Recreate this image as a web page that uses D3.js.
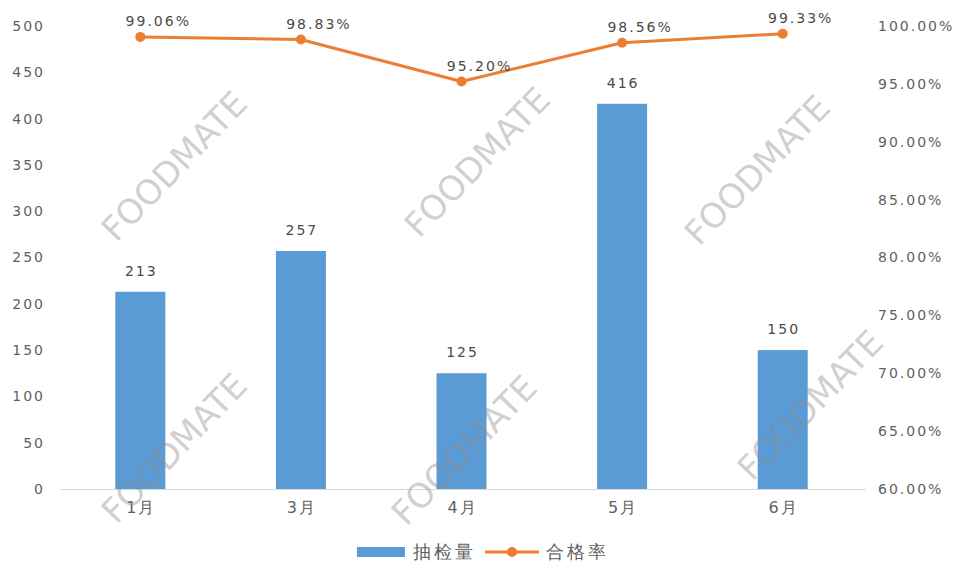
<!DOCTYPE html>
<html><head><meta charset="utf-8">
<script src="https://cdn.jsdelivr.net/npm/d3@7/dist/d3.min.js"></script>
<style>body{margin:0;background:#fff}svg{display:block}text{font-family:"DejaVu Sans",Verdana,sans-serif}</style>
</head><body><svg id="c" width="954" height="582"></svg>
<script>
const categories = ["1月","3月","4月","5月","6月"];
const counts = [213, 257, 125, 416, 150];
const rates = [99.06, 98.83, 95.20, 98.56, 99.33];
const leftTicks = [0,50,100,150,200,250,300,350,400,450,500];
const rightTicks = [60,65,70,75,80,85,90,95,100];
const seriesNames = ["抽检量","合格率"];

const svg = d3.select("#c");
const x = d3.scaleBand().domain(categories).range([60, 863]);
const yL = d3.scaleLinear().domain([0,500]).range([489, 26]);
const yR = d3.scaleLinear().domain([60,100]).range([489, 26]);
const grey = "#5f5f5f";
const blue = "#5B9BD5", orange = "#ED7D31";

// baseline
svg.append("line").attr("x1",60).attr("x2",866).attr("y1",489.5).attr("y2",489.5)
  .attr("stroke","#d9d9d9").attr("stroke-width",1);

// left axis
const axL = svg.append("g").attr("transform","translate(49,0)")
  .call(d3.axisLeft(yL).tickValues(leftTicks).tickSize(0).tickPadding(4));
axL.select(".domain").remove();
axL.selectAll("text").attr("fill",grey).attr("font-size",14).attr("letter-spacing",2);

// right axis
const axR = svg.append("g").attr("transform","translate(874,0)")
  .call(d3.axisRight(yR).tickValues(rightTicks).tickSize(0).tickPadding(4).tickFormat(d=>d.toFixed(2)+"%"));
axR.select(".domain").remove();
axR.selectAll("text").attr("fill",grey).attr("font-size",14).attr("letter-spacing",2);

// x axis
const axX = svg.append("g").attr("transform","translate(0,489)")
  .call(d3.axisBottom(x).tickSize(0).tickPadding(13));
axX.select(".domain").remove();
axX.selectAll("text").attr("fill",grey).attr("font-size",16).attr("letter-spacing",2).attr("dx",1);

// bars
const bw = 50;
svg.selectAll("rect.bar").data(counts).join("rect").attr("class","bar")
  .attr("x",(d,i)=>x(categories[i])+x.bandwidth()/2-bw/2)
  .attr("y",d=>yL(d)).attr("width",bw).attr("height",d=>yL(0)-yL(d))
  .attr("fill",blue);
svg.selectAll("text.bl").data(counts).join("text").attr("class","bl")
  .attr("x",(d,i)=>x(categories[i])+x.bandwidth()/2+1)
  .attr("y",d=>yL(d)-16).attr("text-anchor","middle")
  .attr("fill","#4a4a4a").attr("font-size",14).attr("letter-spacing",2).text(d=>d);

// line
const line = d3.line().x((d,i)=>x(categories[i])+x.bandwidth()/2).y(d=>yR(d));
svg.append("path").datum(rates).attr("d",line).attr("fill","none")
  .attr("stroke",orange).attr("stroke-width",3).attr("stroke-linejoin","round");
svg.selectAll("circle.pt").data(rates).join("circle").attr("class","pt")
  .attr("cx",(d,i)=>x(categories[i])+x.bandwidth()/2).attr("cy",d=>yR(d))
  .attr("r",5).attr("fill",orange);
svg.selectAll("text.ll").data(rates).join("text").attr("class","ll")
  .attr("x",(d,i)=>x(categories[i])+x.bandwidth()/2+18)
  .attr("y",d=>yR(d)-11).attr("text-anchor","middle")
  .attr("fill","#4a4a4a").attr("font-size",14).attr("letter-spacing",2).text(d=>d.toFixed(2)+"%");

// legend
const lg = svg.append("g");
lg.append("rect").attr("x",357).attr("y",547).attr("width",48).attr("height",10).attr("fill",blue);
lg.append("text").attr("x",413).attr("y",558).attr("fill",grey).attr("font-size",18).attr("letter-spacing",3)
  .attr("font-family","Noto Sans CJK SC").text(seriesNames[0]);
lg.append("line").attr("x1",485).attr("x2",539).attr("y1",552).attr("y2",552).attr("stroke",orange).attr("stroke-width",3);
lg.append("circle").attr("cx",512).attr("cy",552).attr("r",5).attr("fill",orange);
lg.append("text").attr("x",546).attr("y",558).attr("fill",grey).attr("font-size",18).attr("letter-spacing",3)
  .attr("font-family","Noto Sans CJK SC").text(seriesNames[1]);

// watermarks
const wm = [[174,166],[477,162],[757,170],[174,448],[464,450],[810,405],[962,592]];
svg.selectAll("text.wm").data(wm).join("text").attr("class","wm")
  .attr("transform",d=>`translate(${d[0]},${d[1]}) rotate(-46)`)
  .attr("text-anchor","middle").attr("dominant-baseline","central")
  .attr("font-size",34).attr("font-family","Liberation Sans, Arial, sans-serif")
  .attr("fill","#8c8c8c").attr("fill-opacity",0.42).text("FOODMATE");
</script></body></html>
